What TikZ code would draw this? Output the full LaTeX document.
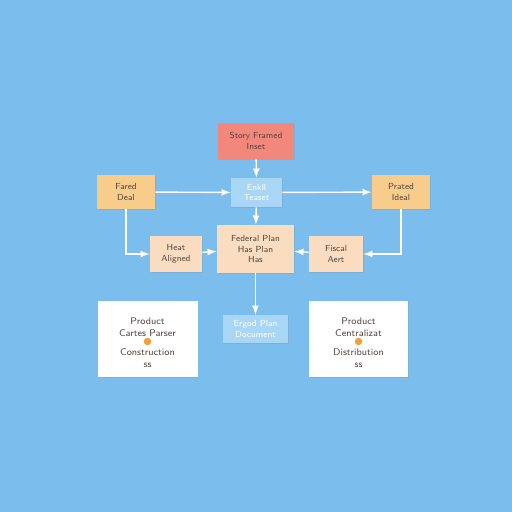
\documentclass[tikz,border=0pt]{standalone}
\usetikzlibrary{shadows}
\definecolor{bgblue}{RGB}{123,189,237}
\definecolor{salmon}{RGB}{242,136,124}
\definecolor{paleblue}{RGB}{170,214,246}
\definecolor{amber}{RGB}{248,205,140}
\definecolor{peach}{RGB}{250,221,192}
\definecolor{inkgray}{RGB}{85,70,62}
\definecolor{dotorange}{RGB}{240,160,60}
\begin{document}
\begin{tikzpicture}[
    box/.style={rectangle, draw=none, inner sep=1pt, align=center,
      font=\sffamily\fontsize{5}{6}\selectfont, text=inkgray,
      drop shadow={opacity=0.18, shadow xshift=0.4pt, shadow yshift=-0.8pt}},
    card/.style={box, fill=white, minimum width=2cm, minimum height=1.52cm},
    label/.style={align=center, inner sep=0pt, font=\sffamily\fontsize{5.5}{6.5}\selectfont, text=inkgray},
    link/.style={->, >=latex, draw=white, line width=0.8pt}
  ]
    \fill[bgblue] (0,0) rectangle (10.24,-10.24);
    \node[box, fill=salmon, minimum width=1.52cm, minimum height=0.72cm] (q_top) at (5.12,-2.82) {Story Framed\\Inset};
    \node[box, fill=paleblue, text=white, minimum width=1.02cm, minimum height=0.58cm] (q_hub) at (5.13,-3.85) {Enkll\\Teaset};
    \node[box, fill=amber, minimum width=1.16cm, minimum height=0.68cm] (q_left) at (2.52,-3.84) {Fared\\Deal};
    \node[box, fill=amber, minimum width=1.16cm, minimum height=0.68cm] (q_right) at (8.02,-3.84) {Prated\\Ideal};
    \node[box, fill=peach, minimum width=1.04cm, minimum height=0.72cm] (q_heat) at (3.52,-5.08) {Heat\\Aligned};
    \node[box, fill=peach, minimum width=1.54cm, minimum height=0.96cm] (q_core) at (5.11,-4.98) {Federal Plan\\Has Plan\\Has};
    \node[box, fill=peach, minimum width=1.08cm, minimum height=0.72cm] (q_fisc) at (6.72,-5.08) {Fiscal\\Aert};
    \node[box, fill=paleblue, text=white, minimum width=1.30cm, minimum height=0.56cm] (q_doc) at (5.11,-6.58) {Ergod Plan\\Document};
    \node[card] (q_cardl) at (2.95,-6.78) {};
    \node[card, minimum width=1.98cm] (q_cardr) at (7.17,-6.78) {};
    \node[label] (q_tl) at (2.95,-6.54) {Product\\Cartes Parser};
    \node[circle, fill=dotorange, inner sep=0pt, minimum size=0.15cm] (q_dl) at (2.95,-6.83) {};
    \node[label] (q_sl) at (2.95,-7.16) {Construction\\ss};
    \node[label] (q_tr) at (7.17,-6.54) {Product\\Centralizat};
    \node[circle, fill=dotorange, inner sep=0pt, minimum size=0.15cm] (q_dr) at (7.17,-6.83) {};
    \node[label] (q_sr) at (7.17,-7.16) {Distribution\\ss};
    \draw[link] (q_top) -- (q_hub);
    \draw[link] (q_left) -- (q_hub);
    \draw[link] (q_hub) -- (q_right);
    \draw[link] (q_hub) -- (q_core);
    \draw[link] (q_left.south) |- (q_heat.west);
    \draw[link] (q_heat) -- (q_core);
    \draw[link] (q_right.south) |- (q_fisc.east);
    \draw[link] (q_fisc) -- (q_core);
    \draw[link] (q_core) -- (q_doc);
  \end{tikzpicture}
\end{document}
